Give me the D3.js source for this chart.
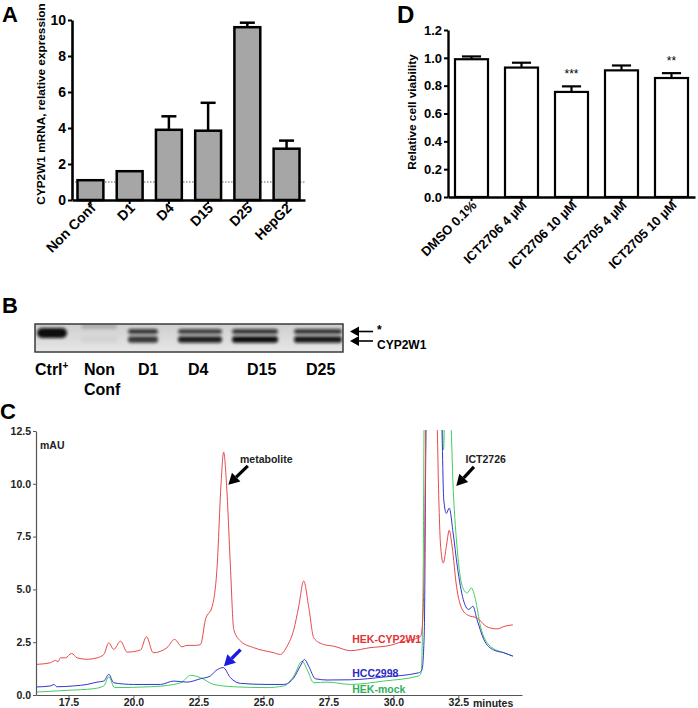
<!DOCTYPE html>
<html>
<head>
<meta charset="utf-8">
<script src="https://cdn.jsdelivr.net/npm/d3@7"></script>
<style>
body { margin: 0; background: #fff; }
svg { font-family: "Liberation Sans", Arial, sans-serif; font-weight: bold; }
</style>
</head>
<body>
<svg id="fig" width="698" height="708"></svg>
<script>
// ---- panel A : mRNA expression
var mrnaCats = ["Non Conf", "D1", "D4", "D15", "D25", "HepG2"];
var mrnaMean = [1.1, 1.6, 3.9, 3.85, 9.6, 2.85];
var mrnaErr = [0, 0, 0.75, 1.55, 0.25, 0.45];
var mrnaTicks = [0, 2, 4, 6, 8, 10];

// ---- panel D : cell viability
var viabCats = ["DMSO 0.1%", "ICT2706 4 \u00b5M", "ICT2706 10 \u00b5M", "ICT2705 4 \u00b5M", "ICT2705 10 \u00b5M"];
var viabMean = [0.99, 0.93, 0.755, 0.91, 0.855];
var viabErr = [0.02, 0.035, 0.04, 0.035, 0.035];
var viabStars = ["", "", "***", "", "**"];
var viabTicks = [0, 0.2, 0.4, 0.6, 0.8, 1.0, 1.2];

// ---- panel B : western blot lanes and band intensities
var laneNames = ["Ctrl+", "Non Conf", "D1", "D4", "D15", "D25"];
var ctrlBand = [1, 0, 0, 0, 0, 0];
var upperBand = [0, 0.18, 0.8, 0.75, 0.8, 0.8];
var lowerBand = [0, 0.04, 0.8, 0.92, 1.0, 0.95];

// ---- panel C : HPLC traces [minutes, mAU]
var chromTicksX = [17.5, 20.0, 22.5, 25.0, 27.5, 30.0, 32.5];
var chromTicksY = [0, 2.5, 5.0, 7.5, 10.0, 12.5];
var redTrace = [[16.26,1.45],[16.81,1.53],[17.0,1.64],[17.1,1.58],[17.19,1.76],[17.38,1.76],[17.62,1.97],[17.83,1.76],
  [18.22,1.69],[18.6,1.76],[18.86,1.92],[19.05,2.47],[19.24,2.16],[19.5,2.55],[19.76,2.03],[20.27,2.13],[20.5,2.76],
  [20.76,2.0],[21.29,2.24],[21.58,2.63],[21.87,2.28],[22.06,2.35],[22.38,2.35],[22.58,2.39],[22.77,3.57],[23.03,4.2],
  [23.22,6.1],[23.37,10.0],[23.47,11.5],[23.58,10.0],[23.73,6.1],[23.86,3.1],[24.12,2.55],[24.63,2.24],[25.4,2.0],
  [25.65,1.92],[25.91,2.31],[26.17,3.1],[26.36,4.2],[26.55,5.4],[26.74,4.2],[26.94,2.7],[27.32,2.39],[27.71,2.31],
  [28.35,2.1],[29.1,2.24],[29.88,2.35],[30.27,2.5],[31.04,2.76],[31.1,3.1],[31.19,6.1],[31.27,13.5],[31.66,13.5],
  [31.75,9.24],[31.81,7.2],[31.92,6.25],[32.04,7.04],[32.15,7.8],[32.26,7.04],[32.43,5.15],[32.65,4.05],[32.9,3.76],
  [33.22,3.65],[33.6,3.23],[33.99,3.13],[34.3,3.26],[34.6,3.32]];
var blueTrace = [[16.26,0.38],[16.81,0.43],[16.94,0.5],[17.05,0.39],[17.7,0.43],[18.22,0.5],[18.6,0.61],[18.86,0.66],
  [19.05,0.98],[19.24,0.58],[20.0,0.5],[21.04,0.5],[21.55,0.66],[22.06,0.61],[22.58,0.77],[22.96,0.9],[23.15,1.13],
  [23.45,1.3],[23.73,0.82],[24.12,0.55],[25.14,0.5],[25.78,0.5],[26.17,0.82],[26.42,1.37],[26.58,1.68],[26.74,1.37],
  [27.0,0.77],[27.45,0.71],[28.35,0.72],[29.63,0.85],[30.97,1.05],[31.1,1.18],[31.19,2.94],[31.27,13.5],[31.84,13.5],
  [31.94,9.24],[32.04,8.6],[32.15,8.85],[32.3,7.67],[32.46,6.1],[32.69,4.52],[32.9,4.05],[33.06,4.2],[33.22,3.57],
  [33.48,2.63],[33.86,2.13],[34.25,2.0],[34.6,1.84]];
var greenTrace = [[16.26,0.14],[17.45,0.22],[18.47,0.3],[18.86,0.43],[19.05,0.87],[19.27,0.35],[20.65,0.39],[21.55,0.5],
  [21.87,0.61],[22.19,0.93],[22.58,0.82],[23.09,0.5],[23.86,0.39],[25.14,0.35],[25.78,0.43],[26.17,0.9],[26.49,1.6],
  [26.68,1.21],[26.94,0.58],[27.45,0.61],[28.35,0.5],[29.63,0.66],[30.97,0.9],[31.07,1.05],[31.15,6.1],[31.19,13.5],
  [31.86,13.5],[31.93,11.6],[31.99,13.5],[32.18,13.5],[32.31,9.56],[32.46,6.88],[32.65,5.15],[32.84,4.83],[33.0,5.07],
  [33.16,4.52],[33.35,3.26],[33.73,2.31],[34.25,2.0],[34.6,1.84]];
var traceNames = ["HEK-CYP2W1", "HCC2998", "HEK-mock"];

var svg = d3.select("#fig");
var defs = svg.append("defs");

function panelLetter(x, y, t, size) {
    svg.append("text").attr("x", x).attr("y", y).style("font-size", size + "px").text(t);
}

function arrow(g, x1, y1, x2, y2, color, w, head) {
    var a = Math.atan2(y2 - y1, x2 - x1);
    var hx = x2 - head * Math.cos(a), hy = y2 - head * Math.sin(a);
    var hw = head * 0.55;
    g.append("line").attr("x1", x1).attr("y1", y1).attr("x2", hx).attr("y2", hy)
        .attr("stroke", color).attr("stroke-width", w);
    g.append("polygon")
        .attr("points", [[x2, y2], [hx + hw * Math.sin(a), hy - hw * Math.cos(a)], [hx - hw * Math.sin(a), hy + hw * Math.cos(a)]].join(" "))
        .attr("fill", color);
}

function barPanel(opt) {
    var g = svg.append("g");
    var x = d3.scaleBand().domain(opt.cats).range(opt.xr).paddingInner(opt.pin).paddingOuter(opt.pout);
    var y = d3.scaleLinear().domain(opt.yd).range(opt.yr);

    if (opt.ref !== undefined) {
        g.append("line").attr("x1", opt.xr[0]).attr("x2", opt.xr[1])
            .attr("y1", y(opt.ref)).attr("y2", y(opt.ref))
            .attr("stroke", "#333").attr("stroke-width", 0.8).attr("stroke-dasharray", "1.5,1.5");
    }

    // error bars
    opt.cats.forEach(function (c, i) {
        if (opt.err[i] <= 0) return;
        var cx = x(c) + x.bandwidth() / 2;
        var cap = x.bandwidth() * 0.29;
        g.append("line").attr("x1", cx).attr("x2", cx).attr("y1", y(opt.mean[i])).attr("y2", y(opt.mean[i] + opt.err[i]))
            .attr("stroke", "#000").attr("stroke-width", opt.sw);
        g.append("line").attr("x1", cx - cap).attr("x2", cx + cap)
            .attr("y1", y(opt.mean[i] + opt.err[i])).attr("y2", y(opt.mean[i] + opt.err[i]))
            .attr("stroke", "#000").attr("stroke-width", opt.sw);
    });

    g.selectAll("rect.bar").data(opt.cats).enter().append("rect")
        .attr("class", "bar")
        .attr("x", function (d) { return x(d); })
        .attr("width", x.bandwidth())
        .attr("y", function (d, i) { return y(opt.mean[i]); })
        .attr("height", function (d, i) { return y(0) - y(opt.mean[i]); })
        .attr("fill", opt.fill).attr("stroke", "#000").attr("stroke-width", opt.sw);

    var ya = g.append("g").attr("transform", "translate(" + opt.xr[0] + ",0)")
        .call(d3.axisLeft(y).tickValues(opt.ticks).tickSize(4).tickSizeOuter(0).tickPadding(2).tickFormat(opt.fmt));
    var xa = g.append("g").attr("transform", "translate(0," + y(0) + ")")
        .call(d3.axisBottom(x).tickSize(4).tickSizeOuter(0));
    [ya, xa].forEach(function (a) {
        a.select(".domain").attr("stroke", "#000").attr("stroke-width", opt.aw);
        a.selectAll(".tick line").attr("stroke", "#000").attr("stroke-width", 2);
        a.selectAll("text").attr("fill", "#000").style("font-size", opt.fs + "px").style("font-weight", "bold")
            .style("font-family", "'Liberation Sans', Arial, sans-serif");
    });
    xa.selectAll(".tick text")
        .attr("x", 0).attr("y", 0).attr("dy", 0)
        .attr("text-anchor", "end")
        .attr("transform", "translate(" + opt.lx + "," + opt.ly + ") rotate(-45)")
        .style("font-size", opt.xfs + "px");

    g.append("text")
        .attr("transform", "translate(" + opt.tx + "," + opt.ty + ") rotate(-90)")
        .attr("text-anchor", "middle").style("font-size", opt.tfs + "px")
        .text(opt.title);

    if (opt.stars) {
        opt.cats.forEach(function (c, i) {
            if (!opt.stars[i]) return;
            g.append("text").attr("x", x(c) + x.bandwidth() / 2).attr("y", y(opt.mean[i] + opt.err[i]) - 8)
                .attr("text-anchor", "middle").style("font-size", "12px").style("font-weight", "normal")
                .text(opt.stars[i]);
        });
    }
}

// ---- A
panelLetter(2, 22, "A", 22);
barPanel({
    cats: mrnaCats, mean: mrnaMean, err: mrnaErr, ticks: mrnaTicks,
    xr: [72, 305], pin: 0.34, pout: 0.14, yd: [0, 10], yr: [200, 20],
    fill: "#a6a6a6", sw: 2.5, aw: 2.6, fs: 14, xfs: 14, fmt: d3.format("d"),
    lx: 6, ly: 9, ref: 1,
    tx: 45, ty: 104, tfs: 11.8, title: "CYP2W1 mRNA, relative expression"
});

// ---- D
panelLetter(397, 23, "D", 24);
barPanel({
    cats: viabCats, mean: viabMean, err: viabErr, ticks: viabTicks, stars: viabStars,
    xr: [448, 695], pin: 0.34, pout: 0.14, yd: [0, 1.2], yr: [197, 30],
    fill: "#fff", sw: 2.2, aw: 2.4, fs: 13, xfs: 13, fmt: d3.format(".1f"),
    lx: 6, ly: 9,
    tx: 416, ty: 112, tfs: 11.8, title: "Relative cell viability"
});

// ---- B : blot
panelLetter(2, 313, "B", 22);
(function () {
    var g = svg.append("g");
    defs.append("filter").attr("id", "blur").attr("x", "-30%").attr("y", "-60%").attr("width", "160%").attr("height", "220%")
        .append("feGaussianBlur").attr("stdDeviation", 1.6);
    defs.append("clipPath").attr("id", "blotclip").append("rect")
        .attr("x", 35).attr("y", 324).attr("width", 308).attr("height", 28);
    var grad = defs.append("linearGradient").attr("id", "blotbg").attr("x1", 0).attr("x2", 0).attr("y1", 0).attr("y2", 1);
    grad.append("stop").attr("offset", "0%").attr("stop-color", "#cfcfcf");
    grad.append("stop").attr("offset", "100%").attr("stop-color", "#e6e6e6");

    var laneX = d3.scaleOrdinal().domain(laneNames).range([52, 99, 143, 200, 255, 318]);
    var laneW = d3.scaleOrdinal().domain(laneNames).range([30, 36, 30, 44, 46, 48]);
    var rowY = d3.scaleOrdinal().domain(["ctrl", "upper", "lower"]).range([333, 331.5, 339.5]);
    var rowH = d3.scaleOrdinal().domain(["ctrl", "upper", "lower"]).range([10, 5, 6.5]);

    g.append("rect").attr("x", 35).attr("y", 324).attr("width", 308).attr("height", 28).attr("fill", "url(#blotbg)");
    var bands = g.append("g").attr("clip-path", "url(#blotclip)");
    var rows = { ctrl: ctrlBand, upper: upperBand, lower: lowerBand };
    Object.keys(rows).forEach(function (r) {
        laneNames.forEach(function (l, i) {
            var v = rows[r][i];
            if (v <= 0) return;
            var yy = rowY(r) - (l === "Non Conf" && r === "upper" ? 5 : 0);
            bands.append("rect")
                .attr("x", laneX(l) - laneW(l) / 2).attr("width", laneW(l))
                .attr("y", yy - rowH(r) / 2).attr("height", rowH(r))
                .attr("rx", r === "ctrl" ? 5 : 3)
                .attr("fill", "#0a0a0a").attr("opacity", v)
                .attr("filter", "url(#blur)");
        });
    });
    g.append("rect").attr("x", 35).attr("y", 324).attr("width", 308).attr("height", 28)
        .attr("fill", "none").attr("stroke", "#3a3a3a").attr("stroke-width", 1.5);

    var labX = d3.scaleOrdinal().domain(laneNames).range([35, 84, 138, 188, 247, 306]);
    laneNames.forEach(function (l) {
        var t = g.append("text").attr("x", labX(l)).attr("y", 375).style("font-size", "16px");
        if (l === "Ctrl+") {
            t.text("Ctrl");
            t.append("tspan").attr("dy", -6).style("font-size", "10px").text("+");
        } else if (l === "Non Conf") {
            t.text("Non");
            g.append("text").attr("x", labX(l)).attr("y", 395).style("font-size", "16px").text("Conf");
        } else {
            t.text(l);
        }
    });
    arrow(g, 373, rowY("upper"), 350, rowY("upper"), "#000", 1.6, 9);
    arrow(g, 373, rowY("lower") + 1.5, 350, rowY("lower") + 1.5, "#000", 1.6, 9);
    g.append("text").attr("x", 377).attr("y", 334).style("font-size", "12px").text("*");
    g.append("text").attr("x", 377).attr("y", 348.5).style("font-size", "12px").text("CYP2W1");
})();

// ---- C : chromatogram
panelLetter(0, 419, "C", 22);
(function () {
    var g = svg.append("g");
    var x = d3.scaleLinear().domain([16.25, 34.95]).range([36, 522]);
    var y = d3.scaleLinear().domain([0, 12.5]).range([695, 431]);
    defs.append("clipPath").attr("id", "cclip").append("rect")
        .attr("x", 36).attr("y", y(12.55)).attr("width", 490).attr("height", y(0) - y(12.55));

    var line = d3.line().x(function (d) { return x(d[0]); }).y(function (d) { return y(d[1]); })
        .curve(d3.curveMonotoneX);
    var traces = [greenTrace, blueTrace, redTrace];
    var cols = ["#3fcf5f", "#3434d0", "#e84a4a"];
    var lg = g.append("g").attr("clip-path", "url(#cclip)");
    traces.forEach(function (t, i) {
        lg.append("path").attr("d", line(t)).attr("fill", "none").attr("stroke", cols[i]).attr("stroke-width", 1);
    });

    var ya = g.append("g").attr("transform", "translate(36,0)")
        .call(d3.axisLeft(y).tickValues(chromTicksY).tickFormat(d3.format(".1f")).tickSize(3).tickSizeOuter(0).tickPadding(2));
    var xa = g.append("g").attr("transform", "translate(0," + y(0) + ")")
        .call(d3.axisBottom(x).tickValues(chromTicksX).tickFormat(d3.format(".1f")).tickSize(3).tickSizeOuter(0).tickPadding(1));
    [ya, xa].forEach(function (a) {
        a.select(".domain").attr("stroke", "#555").attr("stroke-width", 1.2);
        a.selectAll(".tick line").attr("stroke", "#555");
        a.selectAll("text").attr("fill", "#222").style("font-size", "10.5px").style("font-weight", "bold")
            .style("font-family", "'Liberation Sans', Arial, sans-serif");
    });

    g.append("text").attr("x", 40).attr("y", 449).style("font-size", "10.5px").attr("fill", "#222").text("mAU");
    g.append("text").attr("x", 473).attr("y", 707).style("font-size", "10.5px").attr("fill", "#222").text("minutes");

    g.append("text").attr("x", x(24.1)).attr("y", y(11.0)).style("font-size", "10.5px").attr("fill", "#222").text("metabolite");
    arrow(g, x(24.4), y(10.85), x(23.65), y(9.95), "#000", 3.2, 11);
    g.append("text").attr("x", x(32.78)).attr("y", y(11.0)).style("font-size", "10.5px").attr("fill", "#222").text("ICT2726");
    arrow(g, x(33.1), y(10.8), x(32.42), y(9.9), "#000", 3.2, 11);
    arrow(g, x(24.12), y(2.15), x(23.48), y(1.36), "#1a1ae0", 3.4, 11);

    var labCols = ["#e03434", "#2b2bc4", "#2fae5a"];
    var labY = [2.45, 0.85, 0.1];
    traceNames.forEach(function (n, i) {
        g.append("text").attr("x", x(28.42)).attr("y", y(labY[i])).style("font-size", "10.5px")
            .attr("fill", labCols[i]).text(n);
    });
})();
</script>
</body>
</html>
